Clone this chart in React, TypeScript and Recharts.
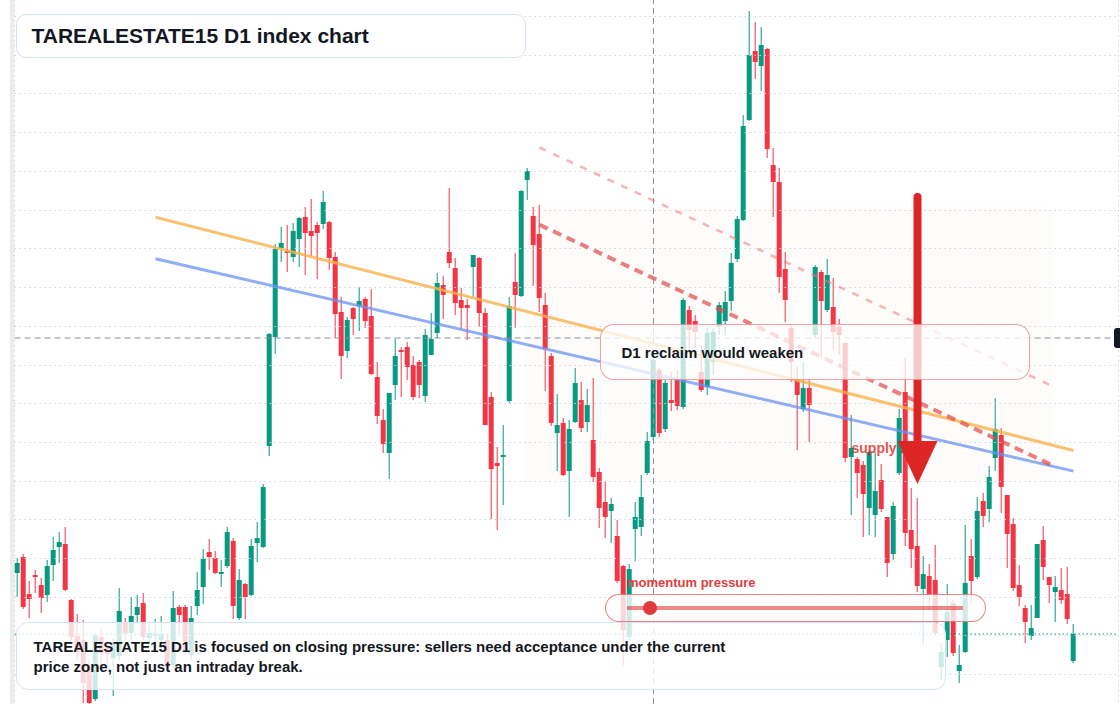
import React from 'react';
import {
  ComposedChart,
  Bar,
  XAxis,
  YAxis,
  CartesianGrid,
  ReferenceLine,
  ReferenceArea,
  ReferenceDot,
} from 'recharts';

// daily OHLC, one entry per session
const OPEN = [
  1113.5, 1121.5, 1103, 1112.5, 1107.5, 1102.5, 1117.5, 1126.5, 1128, 1100,
  1082, 1080, 1066.5, 1050.5, 1081.5, 1076, 1071, 1072, 1089, 1083.5,
  1092.5, 1098.5, 1081, 1082, 1080, 1080, 1067.5, 1096.5, 1096.5, 1072.5,
  1097, 1106.5, 1124, 1121, 1113, 1117, 1129.5, 1091, 1108, 1102.5,
  1128.5, 1126.5, 1177, 1231.5, 1276, 1274.5, 1271.5, 1280.5, 1291.5, 1284.5,
  1287.5, 1288, 1289, 1271.5, 1244, 1224.5, 1246, 1247, 1250.5, 1242,
  1211.5, 1190, 1173.5, 1207.5, 1225, 1226.5, 1217.5, 1219, 1202, 1222.5,
  1233.5, 1257.5, 1274, 1266, 1250, 1247.5, 1266.5, 1271, 1243.5, 1201.5,
  1168.5, 1171.5, 1199.5, 1259, 1252, 1310, 1292, 1283, 1247.5, 1222,
  1183.5, 1188.5, 1164.5, 1189, 1200, 1189, 1180, 1164, 1149, 1144.5,
  1132, 1117, 1081.5, 1135.5, 1136.5, 1163.5, 1181.5, 1215, 1185.5, 1200,
  1210, 1196.5, 1245, 1239.5, 1214, 1206.5, 1219, 1236.5, 1239.5, 1249.5,
  1270.5, 1290, 1340, 1374.5, 1367, 1375.5, 1317.5, 1309, 1265.5, 1236,
  1210.5, 1195.5, 1206, 1232.5, 1264, 1245, 1246.5, 1236.5, 1228.5, 1171.5,
  1170.5, 1167.5, 1146, 1142.5, 1160, 1141.5, 1123, 1163.5, 1204, 1135,
  1127, 1105.5, 1112, 1110, 1066.5, 1080, 1098.5, 1064.5, 1074, 1122,
  1111.5, 1149.5, 1145.5, 1171, 1182.5, 1152.5, 1138, 1107.5, 1096, 1082,
  1091, 1130, 1111.5, 1104, 1105, 1103, 1069.5,
];
const HIGH = [
  1121, 1123, 1109.5, 1115, 1111, 1120, 1131.5, 1134, 1136.5, 1100.5,
  1093, 1090, 1070, 1083.5, 1086, 1080, 1081, 1106, 1091, 1101.5,
  1102.5, 1103.5, 1087.5, 1090.5, 1092, 1083, 1104.5, 1097.5, 1097.5, 1097,
  1114, 1125.5, 1130.5, 1124.5, 1120, 1136.5, 1131, 1115.5, 1108.5, 1130.5,
  1139, 1158, 1233.5, 1278, 1286.5, 1287.5, 1288.5, 1291.5, 1296.5, 1300.5,
  1289, 1304.5, 1289.5, 1274, 1251.5, 1241.5, 1246.5, 1256.5, 1251.5, 1255.5,
  1219, 1195.5, 1203.5, 1230.5, 1226.5, 1229, 1222, 1220, 1235.5, 1243.5,
  1263.5, 1262, 1306, 1271, 1256, 1250.5, 1272.5, 1271.5, 1246, 1204,
  1176.5, 1187.5, 1251.5, 1273.5, 1305, 1316, 1296.5, 1297.5, 1253.5, 1223.5,
  1203, 1191, 1190, 1216, 1209, 1205.5, 1211, 1166, 1159, 1151,
  1140, 1117.5, 1118, 1149, 1162.5, 1184, 1221, 1216, 1210.5, 1214,
  1215, 1251, 1247, 1242.5, 1227.5, 1236, 1236, 1249, 1254.5, 1273.5,
  1292, 1342.5, 1394.5, 1389, 1386.5, 1376, 1326, 1316, 1274, 1237.5,
  1216.5, 1219, 1210.5, 1267.5, 1265, 1270.5, 1261, 1240.5, 1228.5, 1192.5,
  1171.5, 1169.5, 1175, 1174, 1168, 1141.5, 1149, 1195.5, 1221, 1156,
  1151, 1122, 1118, 1127.5, 1079, 1108, 1100, 1077.5, 1137.5, 1130.5,
  1151.5, 1153.5, 1167, 1201, 1186, 1152.5, 1141, 1117.5, 1097.5, 1097.5,
  1128, 1137, 1111.5, 1112, 1116, 1116.5, 1088,
];
const LOW = [
  1101.5, 1095.5, 1091, 1103.5, 1093.5, 1099, 1109.5, 1118.5, 1104.5, 1080,
  1070, 1048.5, 1046, 1049.5, 1066.5, 1067.5, 1052, 1070, 1080, 1080,
  1089, 1080, 1077.5, 1077.5, 1075, 1065, 1066, 1083, 1072.5, 1070,
  1092.5, 1098, 1115, 1113, 1106.5, 1116, 1090.5, 1090, 1090.5, 1102,
  1119, 1126, 1172, 1223, 1269, 1264, 1269, 1266.5, 1262.5, 1272,
  1260.5, 1285.5, 1265, 1231, 1210.5, 1221, 1232.5, 1234.5, 1236, 1212.5,
  1188, 1173.5, 1160.5, 1200, 1201.5, 1210, 1200, 1201, 1199, 1222.5,
  1231, 1240.5, 1266, 1242.5, 1235.5, 1230, 1251.5, 1236.5, 1187.5, 1140.5,
  1135, 1147.5, 1198.5, 1236, 1251.5, 1300, 1257, 1244, 1204.5, 1187,
  1164.5, 1162, 1141.5, 1188.5, 1184, 1184, 1159, 1136, 1131, 1128.5,
  1108.5, 1067.5, 1080, 1119.5, 1132, 1162.5, 1180, 1181.5, 1184, 1194.5,
  1195, 1195.5, 1225, 1226, 1204, 1202.5, 1212.5, 1232.5, 1232.5, 1244.5,
  1269, 1289.5, 1339.5, 1360.5, 1354.5, 1321, 1291.5, 1253.5, 1239, 1209,
  1175, 1194, 1179, 1231.5, 1221, 1244, 1225, 1222.5, 1169, 1142.5,
  1151, 1131.5, 1132.5, 1131.5, 1144, 1111.5, 1120, 1162.5, 1127, 1116,
  1104, 1077.5, 1095, 1082, 1060, 1071.5, 1072, 1058.5, 1073.5, 1098,
  1110.5, 1136.5, 1139, 1164.5, 1143.5, 1116, 1104.5, 1097, 1078.5, 1080,
  1091, 1110, 1098.5, 1089, 1098, 1088, 1068.5,
];
const CLOSE = [
  1118.5, 1096.5, 1100.5, 1111.5, 1101, 1117, 1125, 1129, 1105, 1081.5,
  1074, 1058.5, 1048.5, 1082.5, 1073.5, 1073, 1079, 1094.5, 1083.5, 1092,
  1096.5, 1081.5, 1083.5, 1083, 1083, 1066.5, 1096, 1092.5, 1075, 1091,
  1105, 1120.5, 1121.5, 1113.5, 1114, 1134, 1097, 1110, 1101.5, 1127,
  1131, 1156.5, 1233, 1275.5, 1278.5, 1273.5, 1284.5, 1291, 1283.5, 1282,
  1283.5, 1299, 1271, 1243, 1222, 1240, 1240.5, 1249.5, 1239.5, 1213,
  1192, 1178, 1203.5, 1222, 1224, 1216.5, 1201.5, 1207.5, 1232.5, 1230.5,
  1258.5, 1252.5, 1268.5, 1248.5, 1246, 1246, 1272.5, 1243.5, 1187.5, 1165.5,
  1167, 1172.5, 1247, 1252.5, 1304.5, 1314.5, 1277.5, 1251, 1225.5, 1188.5,
  1187.5, 1162.5, 1185.5, 1208.5, 1186, 1197.5, 1161.5, 1146, 1141.5, 1148,
  1109.5, 1085, 1115.5, 1141.5, 1151.5, 1179.5, 1220, 1183.5, 1208.5, 1198.5,
  1197, 1250, 1235, 1234, 1205, 1233.5, 1234, 1247.5, 1249, 1268.5,
  1290.5, 1337, 1372.5, 1369, 1377.5, 1325.5, 1309, 1261.5, 1250, 1219,
  1202.5, 1206, 1197.5, 1266.5, 1249.5, 1262.5, 1234, 1232.5, 1171, 1176,
  1163.5, 1153, 1174, 1154.5, 1145.5, 1118.5, 1147, 1191, 1133.5, 1125.5,
  1107, 1113, 1103, 1083.5, 1074, 1094, 1073.5, 1067.5, 1108.5, 1109.5,
  1144.5, 1142, 1161.5, 1185.5, 1156.5, 1133, 1106, 1101.5, 1089, 1086,
  1128, 1116.5, 1107.5, 1106.5, 1100, 1090.5, 1083,
];

// first session of each month, drawn as vertical grid lines
const MONTH_STARTS = [18, 41, 62, 82, 103, 119, 138, 160, 182];
const PRICE_TICKS = [
  1391.75, 1372.25, 1353.25, 1333.75, 1314.25, 1294.75, 1275.75, 1256.25, 1236.75,
  1217.25, 1198.25, 1178.75, 1159.25, 1140.25, 1120.75, 1101.25, 1082.25, 1062.75,
];
const SESSIONS = 184; // traded days plus empty room on the right
const PRICE_RANGE = [1048, 1400];

const CROSSHAIR = { day: 106, price: 1231 };
const UPPER_TREND = [{ x: 23, y: 1291.4 }, { x: 176, y: 1174.75 }];
const LOWER_TREND = [{ x: 23, y: 1270.6 }, { x: 176, y: 1164.45 }];
const SELL_LINE = [{ x: 87, y: 1287.6 }, { x: 173, y: 1166.65 }];
const SELL_LINE_OUTER = [{ x: 87, y: 1326.25 }, { x: 173, y: 1206.25 }];
const SUPPLY_ZONE = { from: 85, to: 172, low: 1160, high: 1296.5 };
const ARROW = { day: 150, top: 1301.5, base: 1177.5, tip: 1158 };
const ZONE_LABEL = { day: 139, price: 1173.6 };

const UP = '#089981';
const DOWN = '#f23645';
const GRID = '#cfd4db';
const FONT = '"Liberation Sans", Arial, Helvetica, sans-serif';

const rows = Array.from({ length: SESSIONS }, (_, i) =>
  i < OPEN.length
    ? { day: i, o: OPEN[i], h: HIGH[i], l: LOW[i], c: CLOSE[i] }
    : { day: i }
);

function Candle(props: any) {
  const { x, y, width, height, payload } = props;
  if (!payload || payload.o == null) return null;
  const { o, h, l, c } = payload;
  const top = Math.min(y, y + height);
  const span = Math.abs(height);
  const at = (v: number) => (h === l ? top : top + ((h - v) / (h - l)) * span);
  const color = c >= o ? UP : DOWN;
  const y1 = at(Math.max(o, c));
  const y2 = at(Math.min(o, c));
  const mid = x + width / 2;
  const bw = Math.min(5, width);
  return (
    <g>
      <line x1={mid} x2={mid} y1={top} y2={top + span} stroke={color} strokeWidth={1} />
      <rect x={mid - bw / 2} y={y1} width={bw} height={Math.max(1, y2 - y1)} fill={color} />
    </g>
  );
}

const ArrowHead = (p: any) => (
  <polygon
    points={`${p.cx - 20},${p.cy - 43} ${p.cx + 20},${p.cy - 43} ${p.cx},${p.cy}`}
    fill="#dc2626"
  />
);

const ZoneText = (p: any) => (
  <text x={p.cx} y={p.cy} fill="#dc2626" fillOpacity={0.8} fontSize={14} fontWeight={700} fontFamily={FONT}>
    supply zone
  </text>
);

const ZoneRect = (p: any) => (
  <rect x={p.x} y={p.y} width={p.width} height={p.height} rx={8} fill="#f3dcc4" fillOpacity={0.08} />
);

const box = (extra: React.CSSProperties): React.CSSProperties => ({
  position: 'absolute',
  boxSizing: 'border-box',
  fontFamily: FONT,
  fontWeight: 700,
  color: '#131722',
  ...extra,
});

export default function App() {
  return (
    <div
      style={{
        position: 'fixed',
        left: 0,
        top: 0,
        width: 1120,
        height: 704,
        overflow: 'hidden',
        background: '#ffffff',
      }}
    >
      <ComposedChart
        width={1120}
        height={704}
        data={rows}
        margin={{ top: 0, right: 1.5, bottom: 0, left: 14.5 }}
      >
        <CartesianGrid stroke={GRID} strokeDasharray="1.5 3.5" horizontal={false} />
        <XAxis
          dataKey="day"
          type="category"
          ticks={MONTH_STARTS}
          interval={0}
          height={0}
          tick={false}
          axisLine={false}
          tickLine={false}
        />
        <YAxis
          type="number"
          domain={PRICE_RANGE}
          ticks={PRICE_TICKS}
          interval={0}
          allowDataOverflow
          width={0}
          tick={false}
          axisLine={false}
          tickLine={false}
        />
        {/* horizontal price grid */}
        {PRICE_TICKS.map((t) => (
          <ReferenceLine key={t} y={t} stroke={GRID} strokeDasharray="1.5 3.5" />
        ))}
        <ReferenceLine x={CROSSHAIR.day} stroke="#8a8f98" strokeDasharray="6 4" />
        <ReferenceLine y={CROSSHAIR.price} stroke="#8a8f98" strokeDasharray="6 4" />
        <ReferenceLine y={CLOSE[CLOSE.length - 1]} stroke={UP} strokeDasharray="1.5 2.5" />
        <Bar
          dataKey={(r: any) => (r.o == null ? null : [r.l, r.h])}
          barSize={6}
          shape={<Candle />}
          isAnimationActive={false}
        />
        <ReferenceArea
          x1={SUPPLY_ZONE.from}
          x2={SUPPLY_ZONE.to}
          y1={SUPPLY_ZONE.low}
          y2={SUPPLY_ZONE.high}
          shape={<ZoneRect />}
          ifOverflow="visible"
        />
        <ReferenceLine segment={UPPER_TREND} stroke="#f9b24e" strokeOpacity={0.8} strokeWidth={3} />
        <ReferenceLine segment={LOWER_TREND} stroke="#6b93f2" strokeOpacity={0.75} strokeWidth={3} />
        <ReferenceLine
          segment={SELL_LINE_OUTER}
          stroke="#ee7777"
          strokeOpacity={0.55}
          strokeWidth={2.5}
          strokeDasharray="7 8"
        />
        <ReferenceLine
          segment={SELL_LINE}
          stroke="#e04848"
          strokeOpacity={0.7}
          strokeWidth={4}
          strokeDasharray="9 6"
        />
        <ReferenceDot x={ZONE_LABEL.day} y={ZONE_LABEL.price} shape={<ZoneText />} />
        <ReferenceLine
          segment={[{ x: ARROW.day, y: ARROW.top }, { x: ARROW.day, y: ARROW.base }]}
          stroke="#dc2626"
          strokeWidth={8}
          strokeLinecap="round"
        />
        <ReferenceDot x={ARROW.day} y={ARROW.tip} shape={<ArrowHead />} />
      </ComposedChart>

      {/* price scale edge */}
      <div style={{ position: 'absolute', left: 10, top: 0, width: 4, height: 704, background: '#ececec' }} />
      <div
        style={{
          position: 'absolute',
          left: 1114,
          top: 328,
          width: 20,
          height: 20,
          borderRadius: 3,
          background: '#131722',
        }}
      />

      <div
        style={box({
          left: 16,
          top: 14,
          width: 510,
          height: 44,
          border: '1.5px solid #d5e3f6',
          borderRadius: 10,
          background: '#ffffff',
          paddingLeft: 14.5,
          display: 'flex',
          alignItems: 'center',
          fontSize: 21,
        })}
      >
        TAREALESTATE15 D1 index chart
      </div>

      <div
        style={box({
          left: 600,
          top: 324,
          width: 430,
          height: 56,
          border: '1.5px solid rgba(232, 90, 90, 0.55)',
          borderRadius: 14,
          background: 'rgba(255, 255, 255, 0.75)',
          paddingLeft: 20.5,
          display: 'flex',
          alignItems: 'center',
          fontSize: 15,
        })}
      >
        D1 reclaim would weaken
      </div>

      <div style={box({ left: 627, top: 575, fontSize: 13, lineHeight: '15px', color: '#e03c3c' })}>
        momentum pressure
      </div>
      <div
        style={box({
          left: 605,
          top: 594,
          width: 381,
          height: 28,
          border: '1.5px solid rgba(230, 80, 80, 0.7)',
          borderRadius: 14,
          background: 'rgba(255, 255, 255, 0.8)',
        })}
      />
      <div
        style={{
          position: 'absolute',
          left: 627,
          top: 606,
          width: 336,
          height: 4,
          background: 'rgba(230, 70, 70, 0.65)',
        }}
      />
      <div
        style={{
          position: 'absolute',
          left: 643,
          top: 601,
          width: 14,
          height: 14,
          borderRadius: 7,
          background: '#e03a3a',
        }}
      />

      <div
        style={box({
          left: 16,
          top: 622,
          width: 930,
          height: 68,
          border: '1.5px solid #d5e3f6',
          borderRadius: 12,
          background: 'rgba(255, 255, 255, 0.8)',
          paddingLeft: 16.5,
          paddingTop: 14.2,
          fontSize: 15,
          lineHeight: '20px',
        })}
      >
        TAREALESTATE15 D1 is focused on closing pressure: sellers need acceptance under the current
        <br />
        price zone, not just an intraday break.
      </div>
    </div>
  );
}
